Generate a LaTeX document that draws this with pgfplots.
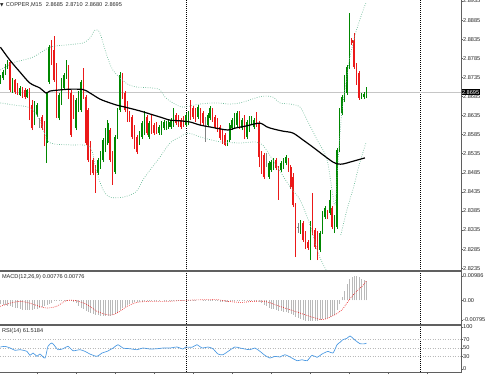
\documentclass[border=0pt]{standalone}
\usepackage{pgfplots}
\pgfplotsset{compat=1.18}
\usepackage{pgfplotstable}
\usepackage{fontspec}
\setmainfont{Liberation Sans}
\newfontfamily\symfont{DejaVu Sans}
\definecolor{cgreen}{RGB}{0,135,0}
\definecolor{cred}{RGB}{235,25,25}
\definecolor{cgray}{RGB}{130,130,130}
\definecolor{band}{RGB}{105,185,150}
\definecolor{rsiblue}{RGB}{70,150,225}
\definecolor{axgray}{RGB}{95,95,95}
\newcommand{\lab}{\fontsize{5.6}{6}\selectfont}

\pgfplotstableread{
x o h l c
0 2.8723 2.8741 2.8718 2.8736
1 2.8733 2.8754 2.8728 2.8749
2 2.8746 2.8770 2.8741 2.8765
3 2.8762 2.8780 2.8757 2.8775
5 2.8697 2.8733 2.8694 2.8728
8 2.8689 2.8712 2.8686 2.8707
11 2.8683 2.8704 2.8681 2.8702
14 2.8615 2.8673 2.8610 2.8668
15 2.8636 2.8668 2.8631 2.8662
19 2.8563 2.8697 2.8511 2.8694
20 2.8723 2.8820 2.8718 2.8814
24 2.8628 2.8694 2.8623 2.8689
25 2.8668 2.8733 2.8662 2.8728
26 2.8707 2.8746 2.8702 2.8741
27 2.8736 2.8780 2.8731 2.8775
31 2.8602 2.8681 2.8597 2.8676
32 2.8649 2.8699 2.8644 2.8694
33 2.8649 2.8728 2.8644 2.8723
40 2.8484 2.8524 2.8479 2.8518
41 2.8500 2.8542 2.8495 2.8537
42 2.8518 2.8576 2.8513 2.8571
43 2.8545 2.8602 2.8539 2.8597
44 2.8563 2.8623 2.8558 2.8615
47 2.8487 2.8584 2.8482 2.8579
48 2.8579 2.8655 2.8573 2.8649
49 2.8649 2.8749 2.8644 2.8741
57 2.8563 2.8594 2.8558 2.8589
58 2.8579 2.8621 2.8573 2.8615
59 2.8589 2.8647 2.8584 2.8642
61 2.8579 2.8621 2.8573 2.8615
65 2.8589 2.8610 2.8584 2.8605
66 2.8589 2.8621 2.8584 2.8615
67 2.8602 2.8623 2.8597 2.8618
68 2.8602 2.8621 2.8597 2.8615
69 2.8605 2.8623 2.8600 2.8618
70 2.8605 2.8628 2.8600 2.8623
71 2.8610 2.8655 2.8605 2.8631
76 2.8610 2.8642 2.8605 2.8636
77 2.8615 2.8647 2.8610 2.8642
81 2.8631 2.8662 2.8626 2.8657
85 2.8610 2.8642 2.8605 2.8636
86 2.8628 2.8660 2.8623 2.8655
93 2.8558 2.8571 2.8555 2.8566
94 2.8571 2.8615 2.8566 2.8610
95 2.8602 2.8628 2.8597 2.8623
96 2.8605 2.8642 2.8600 2.8636
97 2.8610 2.8647 2.8605 2.8642
99 2.8602 2.8628 2.8597 2.8623
101 2.8579 2.8623 2.8573 2.8618
102 2.8597 2.8634 2.8592 2.8628
103 2.8618 2.8634 2.8613 2.8628
104 2.8605 2.8628 2.8600 2.8623
110 2.8474 2.8516 2.8469 2.8511
111 2.8492 2.8518 2.8487 2.8513
112 2.8497 2.8524 2.8492 2.8518
115 2.8492 2.8516 2.8487 2.8511
116 2.8500 2.8524 2.8495 2.8518
117 2.8511 2.8532 2.8505 2.8526
123 2.8330 2.8361 2.8325 2.8356
127 2.8264 2.8359 2.8256 2.8353
131 2.8283 2.8332 2.8277 2.8327
132 2.8330 2.8385 2.8325 2.8380
133 2.8369 2.8398 2.8364 2.8393
135 2.8380 2.8440 2.8374 2.8414
137 2.8335 2.8374 2.8327 2.8369
138 2.8343 2.8550 2.8338 2.8545
139 2.8545 2.8655 2.8539 2.8649
140 2.8642 2.8689 2.8636 2.8683
141 2.8676 2.8741 2.8670 2.8736
142 2.8694 2.8767 2.8689 2.8762
143 2.8762 2.8904 2.8757 2.8833
148 2.8681 2.8694 2.8678 2.8689
149 2.8683 2.8697 2.8678 2.8691
150 2.8685 2.8710 2.8680 2.8695
}\upc

\pgfplotstableread{
x o h l c
4 2.8775 2.8778 2.8697 2.8702
6 2.8728 2.8731 2.8691 2.8697
7 2.8715 2.8720 2.8689 2.8694
9 2.8707 2.8710 2.8681 2.8686
10 2.8702 2.8707 2.8678 2.8683
12 2.8702 2.8707 2.8623 2.8628
13 2.8662 2.8676 2.8597 2.8602
17 2.8631 2.8636 2.8597 2.8602
18 2.8615 2.8621 2.8555 2.8558
21 2.8814 2.8833 2.8767 2.8773
22 2.8807 2.8843 2.8723 2.8728
23 2.8767 2.8773 2.8628 2.8644
28 2.8762 2.8767 2.8678 2.8683
29 2.8694 2.8702 2.8579 2.8584
30 2.8681 2.8689 2.8626 2.8631
34 2.8754 2.8759 2.8678 2.8683
35 2.8683 2.8689 2.8558 2.8563
36 2.8649 2.8655 2.8513 2.8518
37 2.8563 2.8568 2.8479 2.8484
38 2.8518 2.8524 2.8479 2.8484
39 2.8500 2.8505 2.8432 2.8440
45 2.8597 2.8602 2.8513 2.8518
46 2.8537 2.8542 2.8453 2.8458
50 2.8741 2.8746 2.8678 2.8683
51 2.8694 2.8699 2.8644 2.8649
52 2.8668 2.8673 2.8618 2.8623
53 2.8642 2.8647 2.8618 2.8623
54 2.8631 2.8636 2.8573 2.8579
55 2.8605 2.8610 2.8547 2.8552
56 2.8579 2.8584 2.8534 2.8539
60 2.8631 2.8636 2.8584 2.8589
62 2.8623 2.8636 2.8587 2.8592
63 2.8610 2.8615 2.8584 2.8589
64 2.8613 2.8618 2.8587 2.8592
72 2.8636 2.8642 2.8610 2.8615
73 2.8631 2.8636 2.8605 2.8610
74 2.8623 2.8628 2.8600 2.8605
75 2.8628 2.8634 2.8605 2.8610
78 2.8662 2.8676 2.8623 2.8628
79 2.8655 2.8660 2.8626 2.8631
80 2.8649 2.8655 2.8618 2.8623
82 2.8649 2.8655 2.8610 2.8615
83 2.8642 2.8647 2.8610 2.8615
87 2.8649 2.8655 2.8618 2.8623
88 2.8631 2.8636 2.8600 2.8605
89 2.8623 2.8628 2.8592 2.8597
90 2.8605 2.8610 2.8571 2.8576
91 2.8592 2.8597 2.8560 2.8566
92 2.8584 2.8589 2.8555 2.8558
98 2.8642 2.8647 2.8600 2.8605
100 2.8631 2.8636 2.8573 2.8579
105 2.8636 2.8644 2.8605 2.8610
106 2.8615 2.8621 2.8500 2.8526
107 2.8537 2.8542 2.8482 2.8487
108 2.8532 2.8537 2.8469 2.8474
113 2.8518 2.8524 2.8492 2.8497
114 2.8497 2.8503 2.8414 2.8474
118 2.8518 2.8524 2.8487 2.8492
119 2.8500 2.8505 2.8442 2.8448
120 2.8474 2.8484 2.8395 2.8400
121 2.8400 2.8406 2.8264 2.8335
124 2.8353 2.8359 2.8304 2.8309
125 2.8327 2.8332 2.8285 2.8290
126 2.8304 2.8309 2.8283 2.8288
128 2.8387 2.8432 2.8322 2.8327
129 2.8335 2.8340 2.8285 2.8290
130 2.8327 2.8332 2.8256 2.8262
134 2.8382 2.8387 2.8364 2.8369
136 2.8393 2.8398 2.8338 2.8343
144 2.8833 2.8838 2.8820 2.8825
145 2.8833 2.8851 2.8757 2.8762
146 2.8767 2.8773 2.8715 2.8720
147 2.8746 2.8752 2.8676 2.8681
}\downc

\pgfplotstableread{
x o h l c
16 2.8618 2.8628 2.8602 2.8615
84 2.8623 2.8631 2.8566 2.8621
109 2.8518 2.8537 2.8500 2.8516
122 2.8343 2.8353 2.8327 2.8340
}\grayc

\pgfplotstableread{
x y
0 2.8754
5.2 2.8773
13.4 2.8788
20.3 2.8814
27.3 2.8820
33.9 2.8825
36.7 2.8838
38.8 2.8859
40.8 2.8851
43.3 2.8799
46.1 2.8754
51.5 2.8720
55.6 2.8710
62.5 2.8707
65.4 2.8702
67.5 2.8683
70.7 2.8668
74.8 2.8657
81.8 2.8665
88.0 2.8668
94.1 2.8665
98.2 2.8668
102.3 2.8676
105.6 2.8683
108.4 2.8686
111.7 2.8683
114.6 2.8668
118.7 2.8665
122.8 2.8657
125.7 2.8623
129.8 2.8571
133.9 2.8518
137.0 2.8400
138.0 2.8479
139.0 2.8571
140.0 2.8649
141.5 2.8715
143.0 2.8780
145.0 2.8838
147.0 2.8880
149.0 2.8917
150.0 2.8932
}\upband

\pgfplotstableread{
x y
0 2.8668
6.0 2.8662
12.1 2.8655
16.2 2.8623
19.1 2.8571
22.4 2.8560
28.5 2.8558
36.7 2.8552
39.2 2.8492
42.1 2.8440
44.9 2.8421
50.2 2.8421
55.6 2.8435
58.4 2.8466
61.3 2.8492
65.4 2.8526
69.5 2.8563
73.6 2.8579
76.9 2.8589
81.8 2.8579
90.0 2.8566
98.2 2.8563
106.4 2.8563
111.7 2.8518
118.7 2.8448
122.8 2.8414
126.9 2.8348
129.8 2.8283
131.8 2.8251
133.9 2.8225
136.0 2.8204
}\lowband

\pgfplotstableread{
x y
139.5 2.8322
142.0 2.8387
145.0 2.8453
147.0 2.8505
149.8 2.8563
}\lowbandb

\pgfplotstableread{
x y
0 2.8814
3.9 2.8780
8.0 2.8749
12.1 2.8720
16.2 2.8707
18.7 2.8694
20.3 2.8699
24.4 2.8702
28.5 2.8704
33.9 2.8703
36.7 2.8694
40.8 2.8678
44.9 2.8668
47.8 2.8662
51.1 2.8657
57.2 2.8647
61.3 2.8639
65.4 2.8631
69.5 2.8623
73.6 2.8621
77.7 2.8618
81.8 2.8610
85.9 2.8605
90.0 2.8600
93.3 2.8597
96.2 2.8602
100.3 2.8607
102.3 2.8610
106.4 2.8615
109.3 2.8605
111.7 2.8600
115.8 2.8594
119.9 2.8589
124.0 2.8571
128.1 2.8552
132.2 2.8532
136.3 2.8513
138.4 2.8508
140.4 2.8508
143.3 2.8513
146.1 2.8518
149.4 2.8524
}\mavg

\pgfplotstableread{
x y
0 -0.0015
1 -0.0017
2 -0.0019
3 -0.0021
4 -0.0023
5 -0.0026
6 -0.0029
7 -0.0032
8 -0.0035
9 -0.0037
10 -0.0038
11 -0.0039
12 -0.0039
13 -0.0038
14 -0.0036
15 -0.0033
16 -0.0031
17 -0.0028
18 -0.0024
19 -0.0019
20 -0.0015
21 -0.0009
22 -0.0003
23 0.0001
24 0.0002
25 0.0002
26 0.0002
27 0.0001
28 0.0000
29 -0.0003
30 -0.0006
31 -0.0012
32 -0.0023
33 -0.0030
34 -0.0036
35 -0.0043
36 -0.0047
37 -0.0051
38 -0.0055
39 -0.0059
40 -0.0060
41 -0.0062
42 -0.0063
43 -0.0063
44 -0.0063
45 -0.0062
46 -0.0060
47 -0.0055
48 -0.0047
49 -0.0039
50 -0.0032
51 -0.0025
52 -0.0018
53 -0.0013
54 -0.0010
55 -0.0008
56 -0.0007
57 -0.0006
58 -0.0005
59 -0.0004
60 -0.0004
61 -0.0004
62 -0.0003
63 -0.0003
64 -0.0002
65 -0.0001
66 0.0000
67 0.0001
68 0.0001
69 0.0001
70 0.0002
71 0.0002
72 0.0001
73 0.0001
74 0.0001
75 0.0001
76 0.0002
77 0.0002
78 0.0001
79 0.0001
80 0.0001
81 0.0000
82 0.0000
83 -0.0001
84 -0.0001
85 -0.0001
86 -0.0002
87 -0.0003
88 -0.0004
89 -0.0004
90 -0.0005
91 -0.0006
92 -0.0006
93 -0.0005
94 -0.0004
95 -0.0003
96 -0.0002
97 -0.0001
98 -0.0001
99 -0.0001
100 -0.0002
101 -0.0002
102 -0.0002
103 -0.0003
104 -0.0003
105 -0.0003
106 -0.0006
107 -0.0012
108 -0.0018
109 -0.0024
110 -0.0029
111 -0.0033
112 -0.0036
113 -0.0039
114 -0.0042
115 -0.0044
116 -0.0046
117 -0.0048
118 -0.0051
119 -0.0055
120 -0.0060
121 -0.0066
122 -0.0071
123 -0.0075
124 -0.0079
125 -0.0082
126 -0.0085
127 -0.0084
128 -0.0083
129 -0.0083
130 -0.0082
131 -0.0080
132 -0.0077
133 -0.0074
134 -0.0071
135 -0.0067
136 -0.0064
137 -0.0060
138 -0.0040
139 -0.0015
140 0.0015
141 0.0038
142 0.0065
143 0.0085
144 0.0095
145 0.0099
146 0.0098
147 0.0093
148 0.0088
149 0.0083
150 0.0078
}\macdh

\pgfplotstableread{
x y
0 -0.0024
4 -0.0011
8 -0.0004
12 -0.0011
16 -0.0024
19 -0.0031
23 -0.0024
27 -0.0001
31 -0.0001
35.5 -0.0017
39.6 -0.0044
43.7 -0.0058
46.2 -0.0058
49 -0.0044
51.9 -0.0024
56 -0.0008
61.3 -0.0004
68.3 -0.0004
74.8 0.0000
83.9 0.0003
89.2 0.0003
93.3 -0.0004
99 -0.0008
103.1 -0.0004
108.4 -0.0004
112.5 -0.0017
116.6 -0.0031
120.7 -0.0044
124.8 -0.0058
128.9 -0.0071
131.8 -0.0078
134.3 -0.0071
137.1 -0.0058
140 -0.0038
142.5 -0.0004
145.3 0.0030
148.2 0.0057
150 0.0078
}\macds

\pgfplotstableread{
x y
0 52.4
1.9 54
4 50
6 44.5
8 46
10.9 42
12.1 32.6
13.4 38
15 30.2
16.2 35.7
18.3 26.2
19.5 54
21.1 62
22.4 54
23.6 46
25.7 48.3
27.7 54
29.8 43.6
32.6 46
34.7 42
36.7 35.7
39.6 30.2
41.6 38
43.7 42
46.2 50
48.2 57.9
50.2 50
53.1 48.3
56 46
58.4 50
61.3 47.6
64.2 48.3
66.6 50
69.5 50
72.4 52.4
74.8 47.6
76 52.4
78.5 51.7
80.6 57.9
82.6 50
85.1 52.4
87.1 48.3
89.2 35.7
91.2 34
93.3 42
96.1 52.4
98.2 50
100.2 47.6
102.3 46
104.3 50
106.4 42
108.4 32.6
110.5 26.2
112.5 30.2
114.6 28.6
116.6 34
119.5 26.2
121.6 19.8
123.6 22.1
125.7 19.8
127.7 32.6
129.8 27.9
131.8 35.7
134.3 42
136.3 38
138 58
139.2 63.6
140.4 70
142 73
143.3 78.6
145.3 69
147.4 60.2
149.4 60.2
150 61.5
}\rsi

\pgfplotsset{
  panel/.style={scale only axis, width=461pt, xmin=-0.16, xmax=188.77,
    axis line style={draw=none}, xtick=\empty, ytick pos=right, yticklabel pos=right,
    tick align=outside, major tick length=2.2pt, tick style={axgray, line width=0.4pt},
    yticklabel style={font=\lab, text=black!85, inner xsep=0.6pt, xshift=-0.8pt},
    scaled y ticks=false, clip mode=individual},
  wick/.style={draw=none, mark=none, forget plot, error bars/.cd, y dir=plus, y explicit,
    error mark=none, error bar style={draw=#1, solid, line width=0.55pt}},
  body/.style={draw=none, mark=none, forget plot, error bars/.cd, y dir=plus, y explicit,
    error mark=none, error bar style={draw=#1, solid, line width=1.5pt}},
}

\begin{document}
\begin{tikzpicture}[x=1pt,y=1pt]
\useasboundingbox (0pt,0pt) rectangle (486pt,-375pt);

% ---------------- main price panel
\begin{axis}[panel, at={(0pt,0pt)}, anchor=north west, height=271pt,
  ymin=2.82276, ymax=2.89376,
  ytick={2.8935,2.8885,2.8835,2.8785,2.8735,2.8685,2.8635,2.8585,2.8535,2.8485,2.8435,2.8385,2.8335,2.8285,2.8235},
  yticklabels={2.8935,2.8885,2.8835,2.8785,2.8735,2.8685,2.8635,2.8585,2.8535,2.8485,2.8435,2.8385,2.8335,2.8285,2.8235}]
\draw[black, line width=0.6pt, dash pattern=on 0.8pt off 1.2pt] (axis cs:76,2.82276) -- (axis cs:76,2.89376);
\draw[black, line width=0.6pt, dash pattern=on 0.8pt off 1.2pt] (axis cs:172,2.82276) -- (axis cs:172,2.89376);
\draw[gray!45, line width=0.5pt] (axis cs:-0.16,2.8695) -- (axis cs:188.77,2.8695);

\addplot[wick=cgreen] table[x=x, y=l, y error expr=\thisrow{h}-\thisrow{l}] {\upc};
\addplot[body=cgreen] table[x=x, y expr={min(\thisrow{o},\thisrow{c})}, y error expr={max(abs(\thisrow{c}-\thisrow{o}),0.0003)}] {\upc};
\addplot[wick=cred] table[x=x, y=l, y error expr=\thisrow{h}-\thisrow{l}] {\downc};
\addplot[body=cred] table[x=x, y expr={min(\thisrow{o},\thisrow{c})}, y error expr={max(abs(\thisrow{c}-\thisrow{o}),0.0003)}] {\downc};
\addplot[wick=cgray] table[x=x, y=l, y error expr=\thisrow{h}-\thisrow{l}] {\grayc};
\addplot[body=cgray] table[x=x, y expr={min(\thisrow{o},\thisrow{c})}, y error expr={max(abs(\thisrow{c}-\thisrow{o}),0.0003)}] {\grayc};

\addplot[band, line width=0.7pt, dash pattern=on 0.7pt off 1.6pt, smooth, tension=0.5] table {\upband};
\addplot[band, line width=0.7pt, dash pattern=on 0.7pt off 1.6pt, smooth, tension=0.5] table {\lowband};
\addplot[band, line width=0.7pt, dash pattern=on 0.7pt off 1.6pt, smooth, tension=0.5] table {\lowbandb};
\addplot[black, line width=1.2pt, smooth, tension=0.5] table {\mavg};

\node[anchor=west, inner sep=0pt, font=\lab, text=black!85] at (axis cs:-0.16,2.8924)
  {{\symfont\fontsize{4.5}{5}\selectfont ▼}\hspace{2.2pt}COPPER,M15\hspace{4pt}2.8685\hspace{2.5pt}2.8710\hspace{2.5pt}2.8680\hspace{2.5pt}2.8695};
\node[anchor=west, fill=black, text=white, inner xsep=0.8pt, inner ysep=1pt, font=\lab] at (axis cs:188.77,2.8696) {2.8695};
\end{axis}

% ---------------- MACD panel
\begin{axis}[panel, at={(0pt,-272pt)}, anchor=north west, height=52pt,
  ymin=-0.00955, ymax=0.0115,
  ytick={0.00986,0,-0.00795}, yticklabels={0.00986,0.00,-0.00795}]
\draw[black, line width=0.6pt, dash pattern=on 0.8pt off 1.2pt] (axis cs:76,-0.00955) -- (axis cs:76,0.0115);
\draw[black, line width=0.6pt, dash pattern=on 0.8pt off 1.2pt] (axis cs:172,-0.00955) -- (axis cs:172,0.0115);
\addplot[ycomb, draw=gray!55, line width=0.5pt, mark=none] table {\macdh};
\addplot[cred, line width=0.6pt, dash pattern=on 0.8pt off 1.2pt, smooth, tension=0.5, mark=none] table {\macds};
\node[anchor=west, inner sep=0pt, font=\lab, text=black!85] at (axis cs:0.6,0.0094) {MACD(12,26,9) 0.00776 0.00776};
\end{axis}

% ---------------- RSI panel
\begin{axis}[panel, at={(0pt,-326pt)}, anchor=north west, height=46pt,
  ymin=-7.1, ymax=102.4,
  ytick={0,30,50,70,100}, yticklabels={0,30,50,70,100},
  xtick={15,31,47,63,79,95,111,127,143,159,175}, xticklabel=\empty, xtick pos=bottom]
\draw[black, line width=0.6pt, dash pattern=on 0.8pt off 1.2pt] (axis cs:76,-7.1) -- (axis cs:76,102.4);
\draw[black, line width=0.6pt, dash pattern=on 0.8pt off 1.2pt] (axis cs:172,-7.1) -- (axis cs:172,102.4);
\draw[gray!55, line width=0.5pt, dash pattern=on 1pt off 1.5pt] (axis cs:-0.16,70) -- (axis cs:188.77,70);
\draw[gray!55, line width=0.5pt, dash pattern=on 1pt off 1.5pt] (axis cs:-0.16,50) -- (axis cs:188.77,50);
\draw[gray!55, line width=0.5pt, dash pattern=on 1pt off 1.5pt] (axis cs:-0.16,30) -- (axis cs:188.77,30);
\addplot[rsiblue, line width=0.65pt, smooth, tension=0.4, mark=none] table {\rsi};
\node[anchor=west, inner sep=0pt, font=\lab, text=black!85] at (axis cs:0.6,91) {RSI(14) 61.5184};
\end{axis}

% ---------------- frame lines
\draw[axgray, line width=0.7pt] (461pt,0pt) -- (461pt,-372.5pt);
\draw[gray!75!black, line width=1.8pt] (0pt,-271pt) -- (461pt,-271pt);
\draw[gray!75!black, line width=1.8pt] (0pt,-325pt) -- (461pt,-325pt);
\draw[axgray, line width=0.6pt] (0pt,-372.2pt) -- (461pt,-372.2pt);
\end{tikzpicture}
\end{document}
